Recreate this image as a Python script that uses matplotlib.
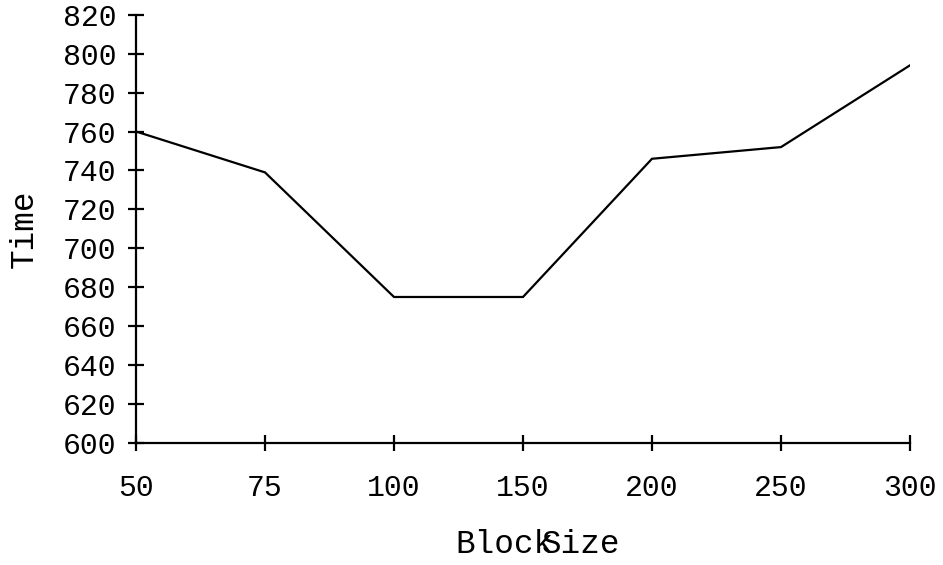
import matplotlib
matplotlib.use("Agg")
import matplotlib.pyplot as plt

# Run time for each block size
block_sizes = ["50", "75", "100", "150", "200", "250", "300"]
times = [760, 739, 675, 675, 746, 752, 794]
y_ticks = list(range(600, 821, 20))

W, H = 943, 565
DPI = 100
fig = plt.figure(figsize=(W / DPI, H / DPI), dpi=DPI)
ax = fig.add_axes([136 / W, 1 - 443 / H, (910 - 136) / W, (443 - 14.7) / H])

mono = "Liberation Mono"
x = list(range(len(block_sizes)))
ax.plot(x, times, color="black", lw=1.6, solid_joinstyle="miter")

ax.set_xlim(0, len(block_sizes) - 1)
ax.set_ylim(600, 820)
ax.set_xticks(x)
ax.set_xticklabels(block_sizes)
ax.set_yticks(y_ticks)
ax.set_yticklabels([str(v) for v in y_ticks])

for side in ("top", "right"):
    ax.spines[side].set_visible(False)
for side in ("left", "bottom"):
    ax.spines[side].set_linewidth(1.6)

ax.tick_params(axis="both", direction="inout", length=12, width=1.6,
               labelsize=21.5, colors="black")
ax.tick_params(axis="y", pad=8)
ax.tick_params(axis="x", pad=16)
for lab in ax.get_xticklabels() + ax.get_yticklabels():
    lab.set_fontfamily(mono)

ax.set_ylabel("Time", fontfamily=mono, fontsize=23.5, labelpad=17)

# Axis title drawn as two words
fig.text(455 / W, 1 - 553 / H, "Block", fontfamily=mono, fontsize=23.5,
         ha="left", va="baseline")
fig.text(541.7 / W, 1 - 553 / H, "Size", fontfamily=mono, fontsize=23.5,
         ha="left", va="baseline")

fig.savefig("out.png", dpi=DPI)
